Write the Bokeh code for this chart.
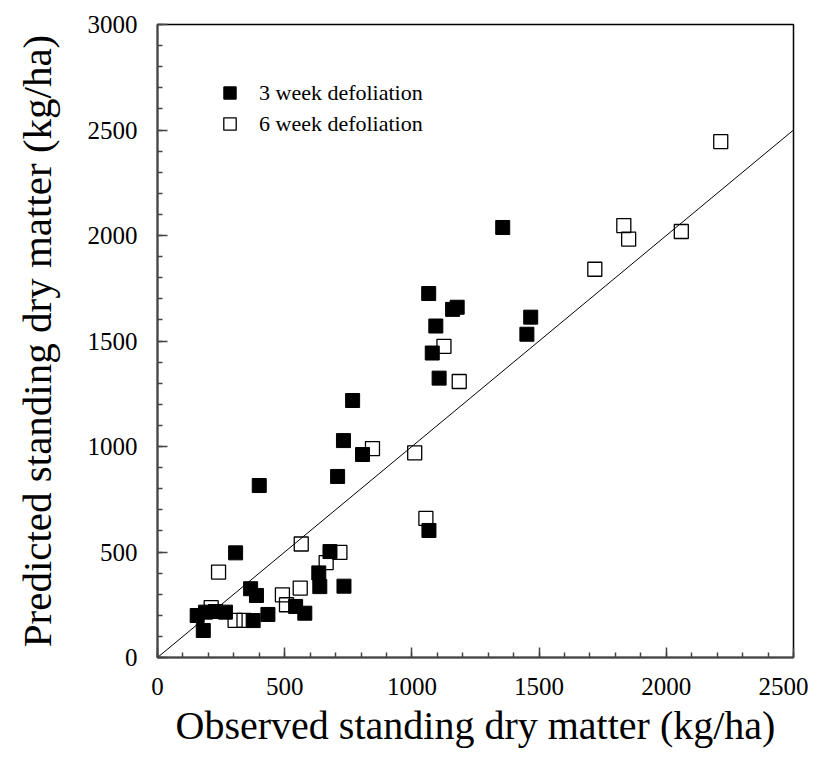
from bokeh.plotting import figure
from bokeh.models import SingleIntervalTicker, Legend, LegendItem
from bokeh.embed import file_html
from bokeh.resources import INLINE

# 3 week defoliation (filled squares)
obs_3wk = [156, 180, 189, 228, 267, 307, 366, 389, 376, 434, 543, 579, 634, 638, 678, 733,
           1067, 400, 708, 731, 806, 767, 1066, 1160, 1178, 1094, 1080, 1107, 1467, 1452, 1357]
pred_3wk = [199, 128, 215, 218, 215, 496, 326, 294, 175, 204, 242, 210, 401, 336, 502, 338,
            602, 815, 858, 1028, 962, 1218, 1725, 1650, 1660, 1571, 1443, 1324, 1613, 1532, 2038]

# 6 week defoliation (open squares)
obs_6wk = [211, 240, 305, 340, 491, 507, 561, 565, 663, 717, 845, 1011, 1055, 1126, 1186,
           1719, 1833, 1852, 2059, 2214]
pred_6wk = [236, 405, 176, 176, 297, 250, 329, 538, 450, 498, 990, 970, 659, 1475, 1308,
            1840, 2047, 1983, 2019, 2445]

line_x = [0, 2500]
line_y = [0, 2500]

FONT = "Liberation Serif"

p = figure(width=808, height=758, x_range=(0, 2500), y_range=(0, 3000),
           output_backend="svg", toolbar_location=None,
           min_border_left=157, min_border_right=15, min_border_top=24, min_border_bottom=101)

p.grid.visible = False
p.outline_line_color = "black"
p.outline_line_width = 1.5

p.xaxis.ticker = SingleIntervalTicker(interval=500, num_minor_ticks=5)
p.yaxis.ticker = SingleIntervalTicker(interval=500, num_minor_ticks=5)

for ax in (p.xaxis[0], p.yaxis[0]):
    ax.axis_line_color = "#444444"
    ax.axis_line_width = 2
    ax.major_tick_line_color = "#444444"
    ax.minor_tick_line_color = "#444444"
    ax.major_tick_line_width = 1.5
    ax.minor_tick_line_width = 1.5
    ax.major_tick_in = 10
    ax.major_tick_out = 0
    ax.minor_tick_in = 5
    ax.minor_tick_out = 0
    ax.major_label_text_font = FONT
    ax.major_label_text_font_size = "25px"
    ax.major_label_text_color = "black"
    ax.axis_label_text_font = FONT
    ax.axis_label_text_font_style = "normal"
    ax.axis_label_text_color = "black"

p.xaxis.axis_label = "Observed standing dry matter (kg/ha)"
p.yaxis.axis_label = "Predicted standing dry matter (kg/ha)"
p.xaxis.axis_label_text_font_size = "40px"
p.yaxis.axis_label_text_font_size = "41px"
p.xaxis.major_label_standoff = 20
p.xaxis.axis_label_standoff = 5
p.yaxis.major_label_standoff = 20
p.yaxis.axis_label_standoff = 25

p.line(line_x, line_y, line_color="black", line_width=1)

r3 = p.scatter(obs_3wk, pred_3wk, marker="square", size=14,
               fill_color="black", line_color="black", line_width=1)
r6 = p.scatter(obs_6wk, pred_6wk, marker="square", size=14,
               fill_alpha=0, line_color="black", line_width=1.3)

legend = Legend(items=[LegendItem(label="3 week defoliation", renderers=[r3]),
                       LegendItem(label="6 week defoliation", renderers=[r6])],
                location=(57, 518))
legend.label_text_font = FONT
legend.label_text_font_size = "22px"
legend.label_text_color = "black"
legend.glyph_width = 31
legend.glyph_height = 31
legend.label_height = 31
legend.label_standoff = 14
legend.spacing = 0
legend.padding = 0
legend.margin = 0
legend.background_fill_alpha = 0
legend.border_line_alpha = 0
p.add_layout(legend, "center")

open("out.html", "w").write(file_html(p, INLINE))
